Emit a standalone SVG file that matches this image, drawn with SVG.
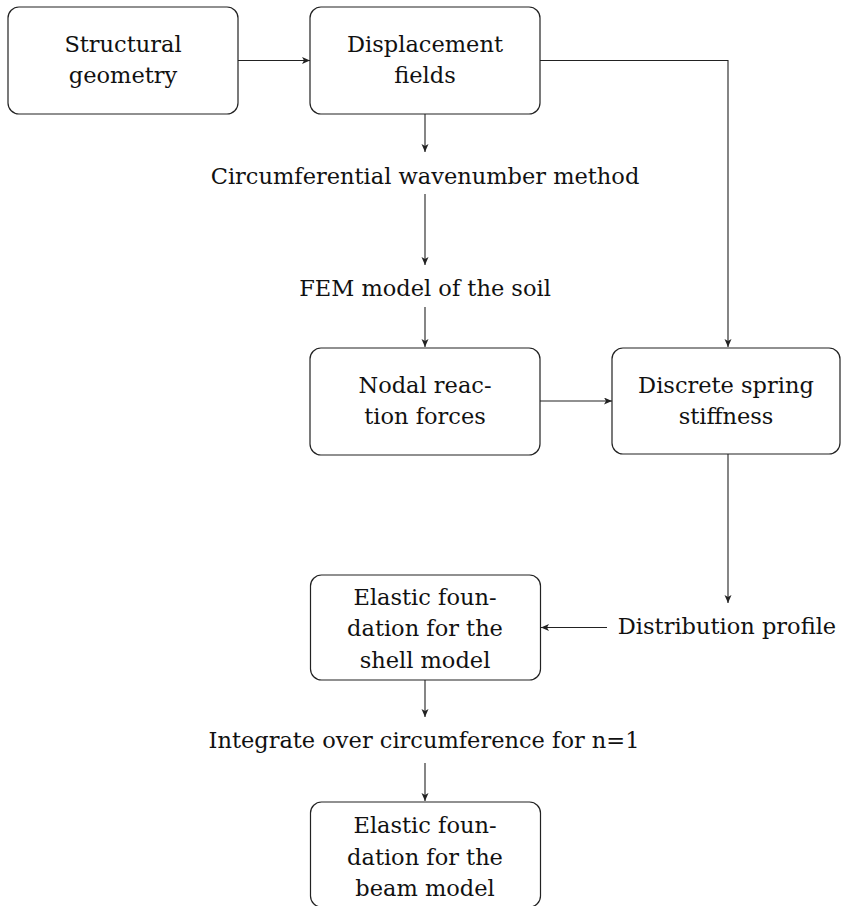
<svg xmlns="http://www.w3.org/2000/svg" width="841" height="906" viewBox="0 0 841 906">
<style>
.box{fill:#fff;stroke:#222;stroke-width:1.2}
.t{font-family:"DejaVu Serif","Liberation Serif",serif;font-size:22.5px;fill:#111;text-anchor:middle}
.c{fill:none;stroke:#222;stroke-width:1.1}
</style>
<defs>
<marker id="ah" markerUnits="userSpaceOnUse" markerWidth="10" markerHeight="8" refX="8" refY="3.5" orient="auto">
<path d="M0,0 L8,3.5 L0,7 L2,3.5 z" fill="#222"/>
</marker>
</defs>
<rect width="841" height="906" fill="#fff"/>
<g id="connectors">
<line class="c" x1="238" y1="60.5" x2="310" y2="60.5" marker-end="url(#ah)"/>
<polyline class="c" points="540,60.5 728,60.5 728,347" marker-end="url(#ah)"/>
<line class="c" x1="425" y1="114" x2="425" y2="152" marker-end="url(#ah)"/>
<line class="c" x1="425" y1="194" x2="425" y2="265" marker-end="url(#ah)"/>
<line class="c" x1="425" y1="307" x2="425" y2="347" marker-end="url(#ah)"/>
<line class="c" x1="540" y1="401" x2="612" y2="401" marker-end="url(#ah)"/>
<line class="c" x1="728" y1="454" x2="728" y2="603" marker-end="url(#ah)"/>
<line class="c" x1="607" y1="627.5" x2="541" y2="627.5" marker-end="url(#ah)"/>
<line class="c" x1="425" y1="680" x2="425" y2="717" marker-end="url(#ah)"/>
<line class="c" x1="425" y1="763" x2="425" y2="801" marker-end="url(#ah)"/>
</g>
<g id="structural">
<rect class="box" x="8" y="7" width="230" height="107" rx="11"/>
<text class="t" x="123" y="52">Structural</text>
<text class="t" x="123" y="83">geometry</text>
</g>
<g id="displacement">
<rect class="box" x="310" y="7" width="230" height="107" rx="11"/>
<text class="t" x="425" y="52">Displacement</text>
<text class="t" x="425" y="83">fields</text>
</g>
<g id="wavenumber">
<text class="t" x="425" y="184">Circumferential wavenumber method</text>
</g>
<g id="fem">
<text class="t" x="425" y="296">FEM model of the soil</text>
</g>
<g id="nodal">
<rect class="box" x="310" y="348" width="230" height="107" rx="11"/>
<text class="t" x="425" y="393">Nodal reac-</text>
<text class="t" x="425" y="424">tion forces</text>
</g>
<g id="discrete">
<rect class="box" x="612" y="348" width="228" height="106" rx="11"/>
<text class="t" x="726" y="393">Discrete spring</text>
<text class="t" x="726" y="424">stiffness</text>
</g>
<g id="distribution">
<text class="t" x="727" y="634">Distribution profile</text>
</g>
<g id="shell">
<rect class="box" x="310.5" y="575" width="230" height="105" rx="11"/>
<text class="t" x="425" y="605">Elastic foun-</text>
<text class="t" x="425" y="636">dation for the</text>
<text class="t" x="425" y="668">shell model</text>
</g>
<g id="integrate">
<text class="t" x="424" y="748">Integrate over circumference for n=1</text>
</g>
<g id="beam">
<rect class="box" x="310.5" y="802" width="230" height="105" rx="11"/>
<text class="t" x="425" y="833">Elastic foun-</text>
<text class="t" x="425" y="865">dation for the</text>
<text class="t" x="425" y="896">beam model</text>
</g>
</svg>
